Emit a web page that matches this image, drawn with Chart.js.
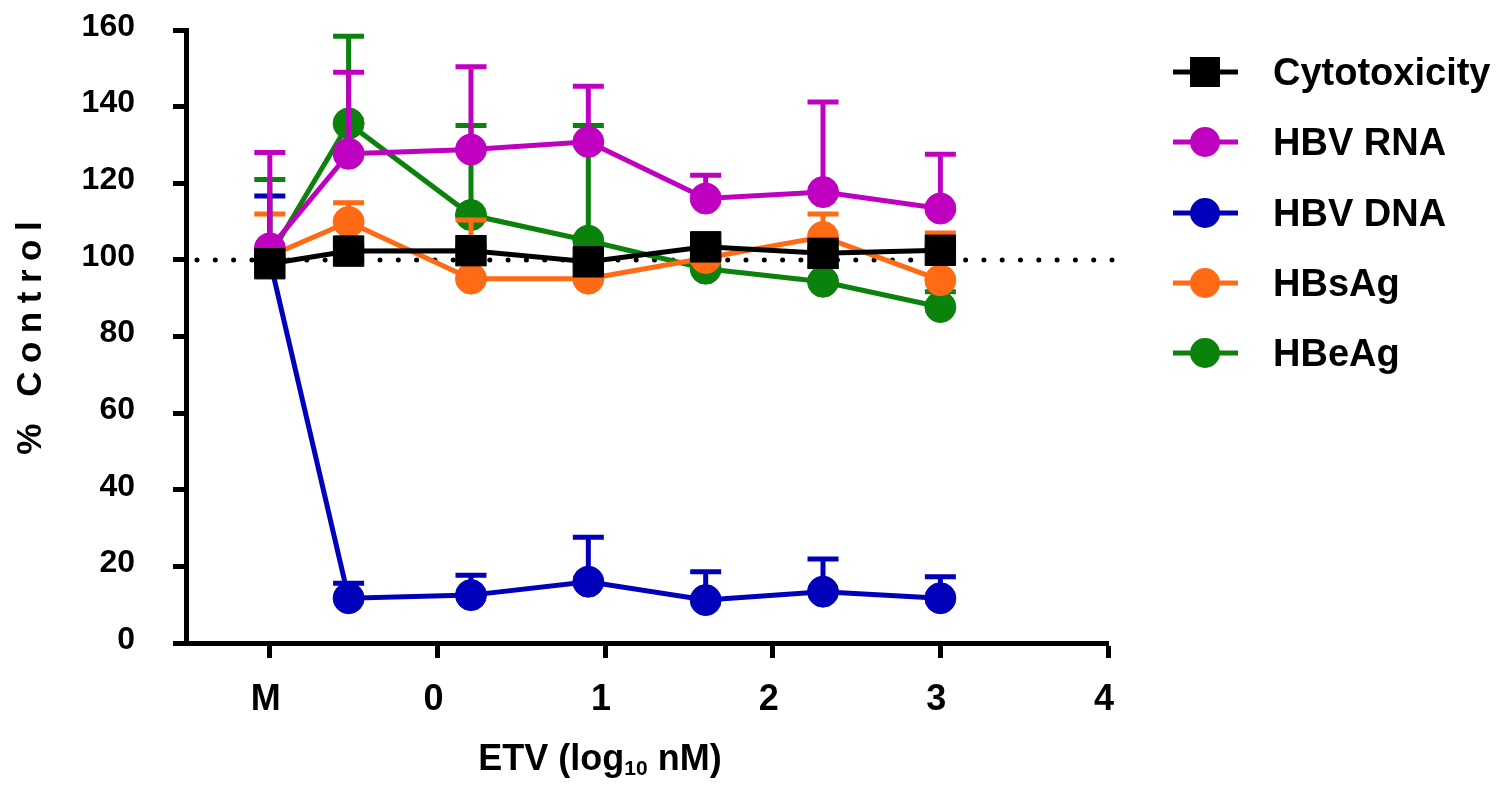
<!DOCTYPE html>
<html><head><meta charset="utf-8">
<script src="https://cdn.jsdelivr.net/npm/chart.js@4.4.0/dist/chart.umd.min.js"></script>
<style>html,body{margin:0;padding:0;background:#fff;overflow:hidden}#wrap{width:1505px;height:785px;position:relative}</style>
</head><body><div id="wrap"><canvas id="c" width="1505" height="785"></canvas></div>
<script>
// ---- data ----
const seriesNames = ['Cytotoxicity', 'HBV RNA', 'HBV DNA', 'HBsAg', 'HBeAg'];
const seriesColors = ['#000000', '#c000c0', '#0000bb', '#ff6a14', '#0b820b'];
const xLog = [-1, -0.53, 0.2, 0.9, 1.6, 2.3, 3.0];          // M plotted at -1
const xTickValues = [-1, 0, 1, 2, 3, 4];
const xTickLabels = ['M', '0', '1', '2', '3', '4'];
const yTickValues = [0, 20, 40, 60, 80, 100, 120, 140, 160];

const cytotoxicity    = [99, 102.3, 102.4, 99.5, 103.4, 101.7, 102.5];
const cytotoxicityErr = [1, 1, 1, 1, 1, 1, 1];
const hbvRna          = [103, 127.7, 128.8, 130.8, 116, 117.7, 113.4];
const hbvRnaErr       = [25, 21.3, 21.6, 14.5, 6.1, 23.5, 14.2];
const hbvDna          = [100, 11.7, 12.5, 16, 11.2, 13.4, 11.7];
const hbvDnaErr       = [16.7, 3.9, 5.2, 11.6, 7.4, 8.5, 5.6];
const hbsAg           = [101, 109.9, 95.1, 95.1, 100.5, 106, 94.7];
const hbsAgErr        = [11, 5, 15.3, 4, 3, 6, 12.3];
const hbeAg           = [101, 135.6, 111.7, 105, 97.7, 94.3, 87.7];
const hbeAgErr        = [20, 22.8, 23.4, 30.1, 4, 4, 4];
const referenceLevel  = 100;

const seriesValues = [cytotoxicity, hbvRna, hbvDna, hbsAg, hbeAg];
const seriesErrors = [cytotoxicityErr, hbvRnaErr, hbvDnaErr, hbsAgErr, hbeAgErr];
const seriesShapes = ['rect', 'circle', 'circle', 'circle', 'circle'];

const FONT = '"Liberation Sans", Arial, Helvetica, sans-serif';

const datasets = seriesNames.map((name, i) => ({
  label: name,
  data: xLog.map((x, j) => ({ x: x, y: seriesValues[i][j] })),
  errors: seriesErrors[i],
  borderColor: seriesColors[i],
  backgroundColor: seriesColors[i],
  pointBackgroundColor: seriesColors[i],
  pointBorderColor: seriesColors[i],
  pointBorderWidth: 1,
  pointStyle: seriesShapes[i],
  pointRadius: seriesShapes[i] === 'rect' ? 21.5 : 15.5,
  pointHoverRadius: seriesShapes[i] === 'rect' ? 21.5 : 15.5,
  borderWidth: 5,
  tension: 0,
  fill: false,
  clip: false
}));

const errorBarPlugin = {
  id: 'errorBars',
  beforeDatasetDraw(chart, args) {
    const ds = chart.data.datasets[args.index];
    const xs = chart.scales.x, ys = chart.scales.y;
    const ctx = chart.ctx;
    ctx.save();
    ctx.strokeStyle = ds.borderColor;
    ctx.lineWidth = 5;
    ctx.lineCap = 'butt';
    ds.data.forEach((p, j) => {
      const e = ds.errors[j];
      if (!e) return;
      const px = xs.getPixelForValue(p.x);
      const py = ys.getPixelForValue(p.y);
      const pt = ys.getPixelForValue(p.y + e);
      ctx.beginPath();
      ctx.moveTo(px, py);
      ctx.lineTo(px, pt);
      ctx.moveTo(px - 15.5, pt);
      ctx.lineTo(px + 15.5, pt);
      ctx.stroke();
    });
    ctx.restore();
  }
};

const refLinePlugin = {
  id: 'refLine',
  beforeDatasetsDraw(chart) {
    const ys = chart.scales.y, a = chart.chartArea, ctx = chart.ctx;
    const y = ys.getPixelForValue(referenceLevel);
    ctx.save();
    ctx.strokeStyle = '#000';
    ctx.lineWidth = 5;
    ctx.lineCap = 'round';
    ctx.setLineDash([0, 18.3]);
    ctx.beginPath();
    ctx.moveTo(a.left + 11, y);
    ctx.lineTo(a.right + 4, y);
    ctx.stroke();
    ctx.restore();
  }
};

const textPlugin = {
  id: 'texts',
  afterDraw(chart) {
    const ctx = chart.ctx;
    ctx.save();
    ctx.fillStyle = '#000';
    // y title with letter spacing
    ctx.font = 'bold 35px ' + FONT;
    const yTitle = '% Control';
    const sp = 8.5;
    let tw = 0;
    for (const ch of yTitle) tw += ctx.measureText(ch).width;
    tw += sp * (yTitle.length - 1);
    ctx.translate(31, 338);
    ctx.rotate(-Math.PI / 2);
    ctx.textBaseline = 'middle';
    ctx.textAlign = 'left';
    let cx = -tw / 2;
    for (const ch of yTitle) { ctx.fillText(ch, cx, 0); cx += ctx.measureText(ch).width + sp; }
    ctx.setTransform(1, 0, 0, 1, 0, 0);

    // x title with subscript
    const p1 = 'ETV (log', sub = '10', p2 = ' nM)';
    ctx.textBaseline = 'alphabetic';
    ctx.font = 'bold 36px ' + FONT;
    const w1 = ctx.measureText(p1).width, w3 = ctx.measureText(p2).width;
    ctx.font = 'bold 21px ' + FONT;
    const w2 = ctx.measureText(sub).width;
    let x0 = 600 - (w1 + w2 + w3) / 2;
    const base = 770;
    ctx.font = 'bold 36px ' + FONT;
    ctx.fillText(p1, x0, base);
    ctx.font = 'bold 21px ' + FONT;
    ctx.fillText(sub, x0 + w1, base + 5);
    ctx.font = 'bold 36px ' + FONT;
    ctx.fillText(p2, x0 + w1 + w2, base);

    // legend
    const rows = [72, 142, 213, 283, 353];
    chart.data.datasets.forEach((ds, i) => {
      const y = rows[i];
      ctx.strokeStyle = ds.borderColor;
      ctx.fillStyle = ds.borderColor;
      ctx.lineWidth = 5;
      ctx.beginPath();
      ctx.moveTo(1173, y); ctx.lineTo(1238, y);
      ctx.stroke();
      if (ds.pointStyle === 'rect') {
        ctx.fillRect(1205 - 15, y - 15, 30, 30);
      } else {
        ctx.beginPath(); ctx.arc(1205, y, 15, 0, Math.PI * 2); ctx.fill();
      }
      ctx.fillStyle = '#000';
      ctx.font = 'bold 38px ' + FONT;
      ctx.textAlign = 'left';
      ctx.textBaseline = 'alphabetic';
      ctx.fillText(ds.label, 1273, y + 13);
    });
    ctx.restore();
  }
};

new Chart(document.getElementById('c'), {
  type: 'line',
  data: { datasets: datasets },
  plugins: [errorBarPlugin, refLinePlugin, textPlugin],
  options: {
    responsive: false,
    devicePixelRatio: 1,
    animation: false,
    layout: { padding: { top: 30, right: 397, left: 0, bottom: 0 } },
    plugins: { legend: { display: false }, tooltip: { enabled: false } },
    scales: {
      x: {
        type: 'linear',
        min: -1.5, max: 4,
        afterBuildTicks(scale) { scale.ticks = xTickValues.map(v => ({ value: v })); },
        afterFit(scale) { scale.height = 142; scale.paddingLeft = 0; scale.paddingRight = 0; },
        ticks: {
          callback: (v) => { const k = xTickValues.indexOf(v); return k >= 0 ? xTickLabels[k] : ''; },
          font: { family: FONT, size: 36, weight: 'bold' },
          color: '#000',
          padding: 20,
          labelOffset: -4,
          maxRotation: 0,
          autoSkip: false
        },
        grid: { drawOnChartArea: false, drawTicks: true, tickLength: 15, tickWidth: 5, tickColor: '#000', color: '#000' },
        border: { display: true, color: '#000', width: 5 }
      },
      y: {
        min: 0, max: 160,
        afterBuildTicks(scale) { scale.ticks = yTickValues.map(v => ({ value: v })); },
        afterFit(scale) { scale.width = 186; scale.paddingTop = 0; scale.paddingBottom = 0; },
        ticks: {
          font: { family: FONT, size: 32, weight: 'bold' },
          color: '#000',
          padding: 38,
          labelOffset: -3,
          autoSkip: false
        },
        grid: { drawOnChartArea: false, drawTicks: true, tickLength: 13, tickWidth: 5, tickColor: '#000', color: '#000' },
        border: { display: true, color: '#000', width: 5 }
      }
    }
  }
});
</script>
</body></html>
